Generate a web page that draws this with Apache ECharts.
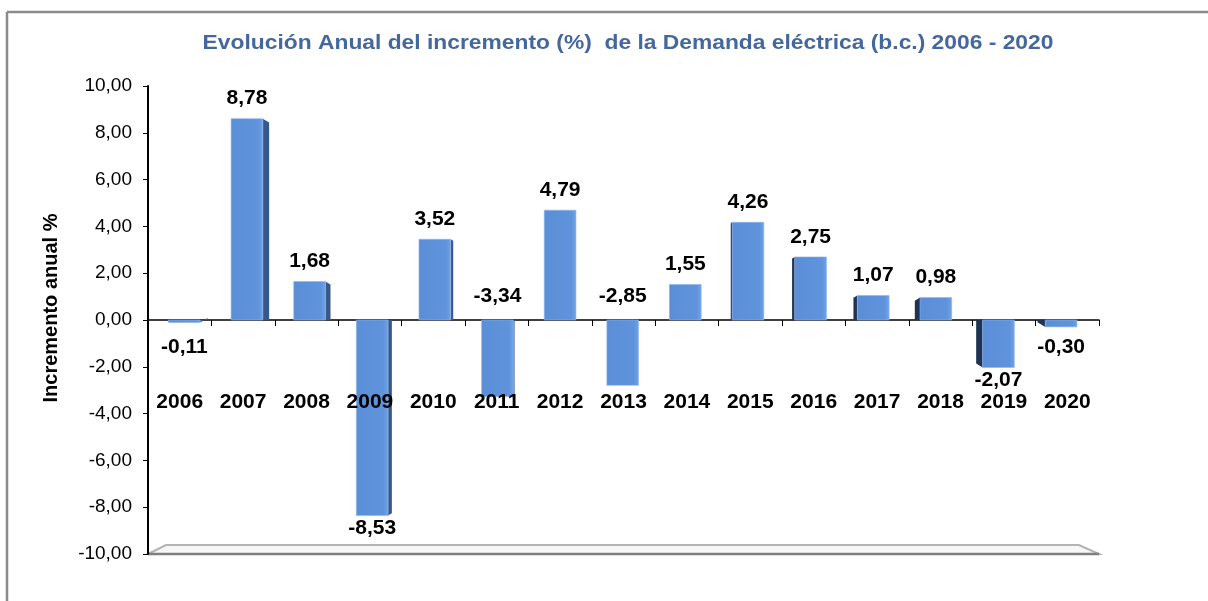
<!DOCTYPE html>
<html>
<head>
<meta charset="utf-8">
<script src="https://cdn.jsdelivr.net/npm/echarts@6/dist/echarts.min.js"></script>
<style>
html,body{margin:0;padding:0;background:#fff;}
#chart{width:1208px;height:601px;}
</style>
</head>
<body>
<div id="chart"></div>
<script>
const years = ['2006','2007','2008','2009','2010','2011','2012','2013','2014','2015','2016','2017','2018','2019','2020'];
const increments = [-0.11, 8.78, 1.68, -8.53, 3.52, -3.34, 4.79, -2.85, 1.55, 4.26, 2.75, 1.07, 0.98, -2.07, -0.30];
const yMin = -10, yMax = 10, yStep = 2;
const titleText = 'Evolución Anual del incremento (%)  de la Demanda eléctrica (b.c.) 2006 - 2020';
const yName = 'Incremento anual %';

const FONT = '"Liberation Sans", Arial, Helvetica, sans-serif';
const fmt = v => v.toFixed(2).replace('.', ',');

function renderBar(params, api) {
  const idx = api.value(0);
  const v = api.value(1);
  const cs = params.coordSys;
  const zero = api.coord([idx, 0]);
  const endRaw = api.coord([idx, v]);
  const band = api.size([1, 0])[0];
  const cx = zero[0];
  const vpFront = cs.x + cs.width * 0.433;
  const fx = cx - 0.0122 * (cx - vpFront);
  const w = band * 0.5;
  const endY = zero[1] + (endRaw[1] - zero[1]) * 0.98;
  const x0 = fx - w / 2, x1 = fx + w / 2;
  const top = Math.min(zero[1], endY), bot = Math.max(zero[1], endY);
  const children = [];
  const vpL = cs.x + cs.width * 0.433, vpR = cs.x + cs.width * 0.56;
  if (cx < vpL) {
    const s = 0.02 * (vpL - cx);
    const pts = v >= 0
      ? [[x1, top], [x1 + s, top + s * 0.6], [x1 + s, bot], [x1, bot]]
      : [[x1, top], [x1 + s, top], [x1 + s, bot - s * 0.6], [x1, bot]];
    children.push({type: 'polygon', shape: {points: pts}, style: {fill: '#36598a'}});
  } else if (cx > vpR) {
    const s = 0.02 * (cx - vpR);
    const pts = v >= 0
      ? [[x0, top], [x0 - s, top + s * 0.6], [x0 - s, bot], [x0, bot]]
      : [[x0, top], [x0 - s, top], [x0 - s, bot - s * 0.6], [x0, bot]];
    children.push({type: 'polygon', shape: {points: pts}, style: {fill: '#1f3352'}});
  }
  children.push({
    type: 'rect',
    shape: {x: x0, y: top, width: w, height: Math.max(bot - top, 1)},
    style: {
      fill: new echarts.graphic.LinearGradient(0, 0, 1, 0, [
        {offset: 0, color: '#5a8ed7'}, {offset: 0.85, color: '#5f94dd'}, {offset: 1, color: '#74a4e6'}
      ]),
      stroke: 'rgba(140,180,235,0.6)', lineWidth: 1
    }
  });
  // category label (drawn over the bars, as in the original)
  const catY = zero[1] + 82;
  children.push({
    type: 'text', z2: 20,
    style: {text: years[idx], x: cx, y: catY, align: 'center', verticalAlign: 'middle',
      font: 'bold 21px ' + FONT, fill: '#000'}
  });
  // data label
  let ly;
  if (v >= 0) {
    ly = endY - 20;
  } else {
    ly = Math.max(endY + 13, zero[1] + 27);
    if (ly + 10 > catY - 10 && ly - 10 < catY + 10) ly = zero[1] - 24;
  }
  children.push({
    type: 'text', z2: 20,
    style: {text: fmt(v), x: fx, y: ly, align: 'center', verticalAlign: 'middle',
      font: 'bold 21px ' + FONT, fill: '#000'}
  });
  return {type: 'group', children};
}

function renderFloor(params, api) {
  const cs = params.coordSys;
  const y = api.coord([0, yMin])[1];
  const l = cs.x, r = cs.x + cs.width;
  return {type: 'group', children: [
    {type: 'polygon', shape: {points: [[l, y], [l + 18, y - 9], [r - 20, y - 9], [r, y]]},
      style: {fill: '#f7f7f7', stroke: '#b3b3b3', lineWidth: 2}},
    {type: 'line', shape: {x1: l, y1: y, x2: r, y2: y}, style: {stroke: '#7f7f7f', lineWidth: 2.5}}
  ]};
}

const chart = echarts.init(document.getElementById('chart'));
chart.setOption({
  animation: false,
  backgroundColor: '#fff',
  grid: {left: 148, right: 109, top: 86, bottom: 47, containLabel: false, outerBoundsMode: 'none'},
  xAxis: {
    type: 'category', data: years, z: 10,
    axisLine: {onZero: true, lineStyle: {color: '#000', width: 1.5}},
    axisTick: {show: true, length: 6, lineStyle: {color: '#000', width: 1}},
    axisLabel: {show: false},
    splitLine: {show: false}
  },
  yAxis: {
    type: 'value', min: yMin, max: yMax, interval: yStep, z: 10,
    axisLine: {show: true, lineStyle: {color: '#000', width: 2}},
    axisTick: {show: true, length: 5, lineStyle: {color: '#000', width: 1}},
    axisLabel: {margin: 16, color: '#000', fontSize: 19, fontFamily: FONT, formatter: v => fmt(v)},
    splitLine: {show: false}
  },
  graphic: [
    {type: 'line', shape: {x1: 7, y1: 12, x2: 1208, y2: 12}, style: {stroke: '#8a8a8a', lineWidth: 2.5}},
    {type: 'line', shape: {x1: 7, y1: 12, x2: 7, y2: 601}, style: {stroke: '#8a8a8a', lineWidth: 2.5}},
    {type: 'text', x: 628, y: 44, scaleX: 1.17,
      style: {text: titleText, align: 'center', verticalAlign: 'middle', font: 'bold 19.5px ' + FONT, fill: '#44689e'}},
    {type: 'text', x: 51, y: 308, rotation: Math.PI / 2,
      style: {text: yName, align: 'center', verticalAlign: 'middle', font: 'bold 20px ' + FONT, fill: '#000'}}
  ],
  series: [
    {type: 'custom', name: 'floor', renderItem: renderFloor, data: [[0, yMin]], encode: {x: 0, y: 1}, z: 1, clip: false, silent: true},
    {type: 'custom', name: 'Incremento', renderItem: renderBar,
      data: increments.map((v, i) => [i, v]), encode: {x: 0, y: 1}, z: 12, clip: false}
  ]
});
</script>
</body>
</html>
